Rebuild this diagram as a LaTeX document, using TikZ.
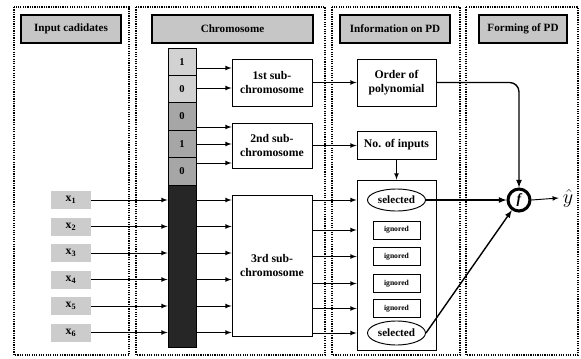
\documentclass[tikz,border=0pt]{standalone}
\usepackage{fontspec}
\setmainfont{Liberation Serif}
\usetikzlibrary{positioning,shapes.geometric}
\begin{document}
\begin{tikzpicture}[x=0.03cm,y=-0.03cm,
  panel/.style={draw,densely dotted,line width=1pt},
  titlebox/.style={draw,very thick,fill=gray!45,font=\bfseries\fontsize{9.5}{10}\selectfont,
    minimum height=28*0.03cm,inner sep=0pt},
  cell/.style={draw,thick,minimum width=28*0.03cm,minimum height=27.4*0.03cm,inner sep=0pt,
    font=\bfseries\small},
  subbox/.style={draw,thick,fill=white,align=center,font=\bfseries\fontsize{10}{11.5}\selectfont,
    minimum width=80*0.03cm,inner sep=0pt},
  inbox/.style={fill=gray!40,minimum width=40*0.03cm,minimum height=18*0.03cm,inner sep=0pt,
    font=\bfseries\normalsize},
  ign/.style={draw,thick,minimum width=47*0.03cm,minimum height=18*0.03cm,inner sep=0pt,
    font=\bfseries\fontsize{6.5}{7}\selectfont},
  sel/.style={draw,thick,ellipse,minimum width=58*0.03cm,inner sep=0pt,
    font=\bfseries\fontsize{9.5}{10}\selectfont},
  arr/.style={-latex,thick},
  barr/.style={-latex,very thick}
]
\useasboundingbox (0,0) rectangle (581,358);

% panels
\draw[panel] (14,7) rectangle (129,355);
\draw[panel] (136,7) rectangle (325,355);
\draw[panel] (332,7) rectangle (460,355);
\draw[panel] (466,7) rectangle (578,355);

% titles
\node[titlebox,minimum width=100*0.03cm] (t1) at (71,29) {Input cadidates};
\node[titlebox,minimum width=161*0.03cm] (t2) at (232.5,29) {Chromosome};
\node[titlebox,minimum width=110*0.03cm] (t3) at (395,29) {Information on PD};
\node[titlebox,minimum width=88*0.03cm] (t4) at (523,29) {Forming of PD};

% chromosome
\foreach \bit [count=\i] in {1,0,0,1,0} {
  \ifnum\i<3
    \node[cell,fill=gray!35] (c\i) at (182,{48+27.4*(\i-0.5)}) {\bit};
  \else
    \node[cell,fill=gray!70] (c\i) at (182,{48+27.4*(\i-0.5)}) {\bit};
  \fi
}
\node[cell,fill=black!85,minimum height=162*0.03cm] (dark) at (182,266) {};

% sub-chromosomes
\node[subbox,minimum height=47*0.03cm] (s1) at (272,82.5) {1st sub-\\chromosome};
\node[subbox,minimum height=45*0.03cm] (s2) at (272,145.5) {2nd sub-\\chromosome};
\node[subbox,minimum height=141*0.03cm] (s3) at (272,265.5) {3rd sub-\\chromosome};

\coordinate (a1) at (196,68);
\coordinate (a2) at (196,88);
\coordinate (a3) at (196,127);
\coordinate (a4) at (196,144);
\coordinate (a5) at (196,163);
\foreach \a in {a1,a2} \draw[arr] (\a) -- (\a -| s1.west);
\foreach \a in {a3,a4,a5} \draw[arr] (\a) -- (\a -| s2.west);

% inputs
\foreach \i in {1,...,6} {
  \node[inbox] (x\i) at (71,{200+26.5*(\i-1)}) {x\textsubscript{\i}};
  \draw[arr] (x\i.east) -- (x\i.east -| dark.west);
  \draw[arr] (x\i.east -| dark.east) -- (x\i.east -| s3.west);
}

% information on PD
\node[subbox,minimum width=79*0.03cm,minimum height=47*0.03cm] (op) at (396.5,82.5) {Order of\\polynomial};
\node[subbox,minimum width=79*0.03cm,minimum height=28*0.03cm] (ni) at (396.5,145) {No. of inputs};
\node[draw,thick,minimum width=79*0.03cm,minimum height=170*0.03cm,inner sep=0pt] (big) at (396.5,265) {};

\node[sel,minimum height=22*0.03cm] (sel1) at (396.5,200) {selected};
\node[ign] (ig1) at (396.5,230) {ignored};
\node[ign] (ig2) at (396.5,256.5) {ignored};
\node[ign] (ig3) at (396.5,283.5) {ignored};
\node[ign] (ig4) at (396.5,308.5) {ignored};
\node[sel,minimum height=24*0.03cm] (sel2) at (396.5,333) {selected};

\draw[arr] (s1.east) -- (op.west);
\draw[arr] (s2.east) -- (s2.east -| ni.west);
\draw[arr] (ni.south) -- (ni.south |- big.north);
\foreach \n in {sel1,ig1,ig2,ig3,ig4,sel2}
  \draw[arr] (\n.west -| s3.east) -- (\n.west -| big.west);

% forming of PD
\node[circle,draw,line width=2.6pt,minimum size=22*0.03cm,inner sep=0pt,
  font=\bfseries\itshape\large] (f) at (519,200) {f};
\node[font=\LARGE] (yhat) at (568,198) {$\hat{y}$};

\draw[barr,rounded corners=8pt] (op.east) -| (f.north);
\draw[barr] (sel1.east) -- (f.west);
\draw[barr] (sel2.east) -- (f);
\draw[arr] (f.east) -- (yhat.west);

\end{tikzpicture}
\end{document}
